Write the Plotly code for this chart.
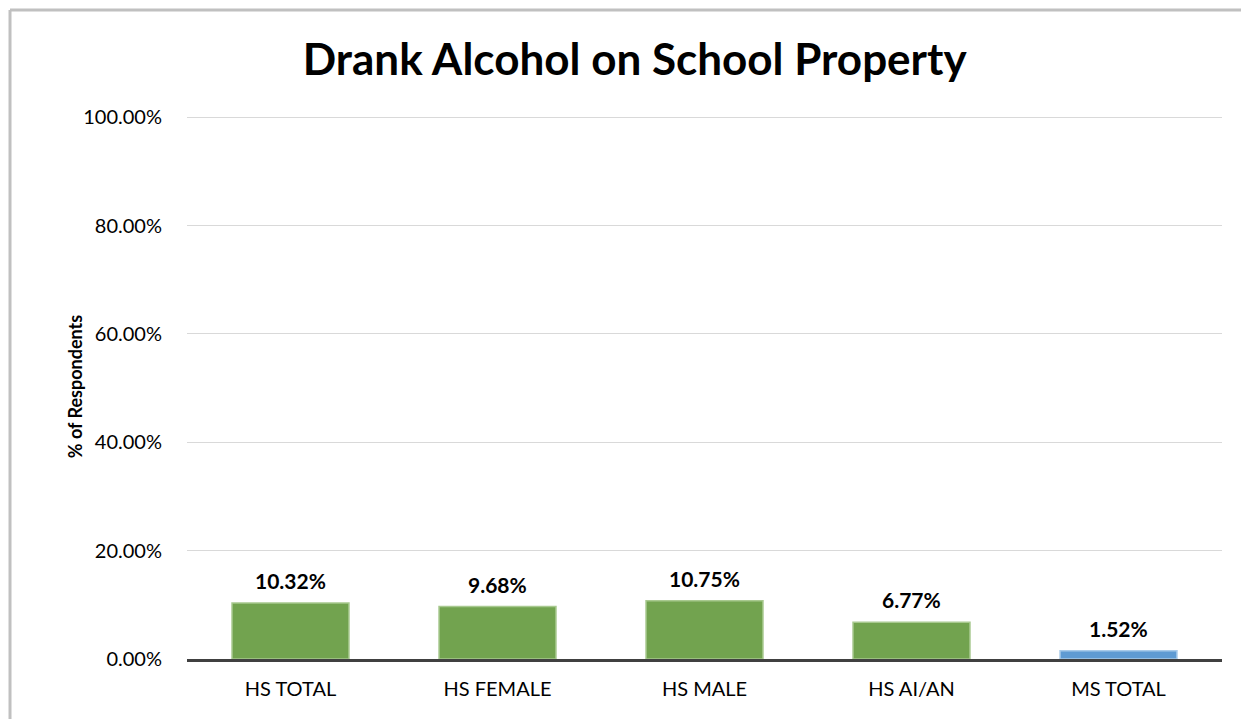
import plotly.graph_objects as go

# data
categories = ['HS TOTAL', 'HS FEMALE', 'HS MALE', 'HS AI/AN', 'MS TOTAL']
values = [0.1032, 0.0968, 0.1075, 0.0677, 0.0152]
bar_colors = ['#72a34f', '#72a34f', '#72a34f', '#72a34f', '#5f9bd3']
edge_colors = ['#a8c98f', '#a8c98f', '#a8c98f', '#a8c98f', '#a9cbea']
tick_vals = [0, 0.2, 0.4, 0.6, 0.8, 1.0]

fig = go.Figure()

fig.add_trace(
    go.Bar(
        x=categories,
        y=values,
        marker=dict(color=bar_colors, line=dict(color=edge_colors, width=1.5)),
        hoverinfo='x+y',
    )
)

# value labels above bars
for c, v in zip(categories, values):
    fig.add_annotation(
        x=c, y=v, text='{:.2%}'.format(v), showarrow=False,
        yanchor='bottom', yshift=8,
        font=dict(family='Lato', size=21, color='#000000', weight='bold'),
    )

# y axis title
fig.add_annotation(
    text='<b>% of Respondents</b>', xref='paper', yref='paper',
    x=-0.108, y=0.5, xanchor='center', yanchor='middle',
    textangle=-90, showarrow=False,
    font=dict(family='Lato', size=18, color='#000000'),
)

# chart border (top and left edges of the chart area)
fig.add_shape(type='line', xref='paper', yref='paper',
              x0=-0.171, x1=1.03, y0=1.193, y1=1.193,
              line=dict(color='#c0c0c0', width=3))
fig.add_shape(type='line', xref='paper', yref='paper',
              x0=-0.171, x1=-0.171, y0=-0.12, y1=1.193,
              line=dict(color='#c0c0c0', width=3))

fig.update_layout(
    width=1241, height=711,
    margin=dict(l=179, r=27, t=107, b=60),
    paper_bgcolor='white', plot_bgcolor='white',
    bargap=0.435,
    showlegend=False,
    title=dict(
        text='<b>Drank Alcohol on School Property</b>',
        x=0.505, xanchor='center', y=0.927, yanchor='middle', yref='container',
        font=dict(family='Lato', size=44, color='#000000'),
    ),
    font=dict(family='Lato', size=20, color='#000000'),
)

fig.update_yaxes(
    range=[0, 1.004], tickvals=tick_vals, tickformat='.2%',
    showgrid=True, gridcolor='#d9d9d9', gridwidth=1,
    zeroline=False, showline=False, ticks='',
    ticklabelstandoff=24, tickfont=dict(size=20),
)
fig.update_xaxes(
    showline=True, linecolor='#404040', linewidth=3,
    ticks='', tickfont=dict(size=20), ticklabelstandoff=10,
)

fig.write_html('out.html')
